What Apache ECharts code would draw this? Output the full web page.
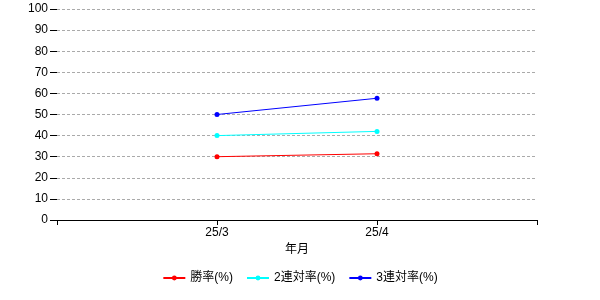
<!DOCTYPE html>
<html><head><meta charset="utf-8">
<script src="https://cdn.jsdelivr.net/npm/echarts@6/dist/echarts.min.js"></script>
<style>html,body{margin:0;padding:0;background:#fff}#c{width:600px;height:300px}</style>
</head><body><div id="c"></div>
<script>
const categories = ['', '25/3', '25/4', ''];
const winRate = [null, 30, 31.4, null];
const quinellaRate = [null, 40, 42, null];
const trioRate = [null, 50, 57.7, null];
const seriesNames = ['勝率(%)', '2連対率(%)', '3連対率(%)'];
const colors = ['#ff0000', '#00ffff', '#0000ff'];
const FONT = 'Liberation Sans, Noto Sans CJK JP, sans-serif';

const chart = echarts.init(document.getElementById('c'), null, {renderer: 'canvas'});
const mk = (name, data, color) => ({
  name, type: 'line', data, color,
  symbol: 'circle', symbolSize: 5,
  lineStyle: {width: 1, color}, itemStyle: {color},
  connectNulls: false, animation: false
});
chart.setOption({
  animation: false,
  grid: {left: 57, right: 63, top: 9, bottom: 80, containLabel: false},
  legend: {
    bottom: 11, left: 'center', itemWidth: 22, itemHeight: 6, itemGap: 13,
    textStyle: {fontFamily: FONT, fontSize: 12, color: '#000'},
    data: seriesNames
  },
  xAxis: {
    type: 'category', data: categories, boundaryGap: false,
    name: '年月', nameLocation: 'middle', nameGap: 24,
    nameTextStyle: {fontFamily: FONT, fontSize: 12, color: '#000'},
    axisLine: {lineStyle: {color: '#000', width: 1}},
    axisTick: {show: true, length: 5, alignWithLabel: true, lineStyle: {color: '#000'}},
    axisLabel: {fontFamily: FONT, fontSize: 12, color: '#000', margin: 7, interval: 0},
    splitLine: {show: false}
  },
  yAxis: {
    type: 'value', min: 0, max: 100, interval: 10,
    axisLine: {show: false},
    axisTick: {show: true, length: 7, lineStyle: {color: '#000'}},
    axisLabel: {fontFamily: FONT, fontSize: 12, color: '#000', margin: 9},
    splitLine: {show: true, lineStyle: {color: '#aaaaaa', type: [3, 2], width: 1}}
  },
  series: [
    mk(seriesNames[0], winRate, colors[0]),
    mk(seriesNames[1], quinellaRate, colors[1]),
    mk(seriesNames[2], trioRate, colors[2])
  ]
});
</script></body></html>
